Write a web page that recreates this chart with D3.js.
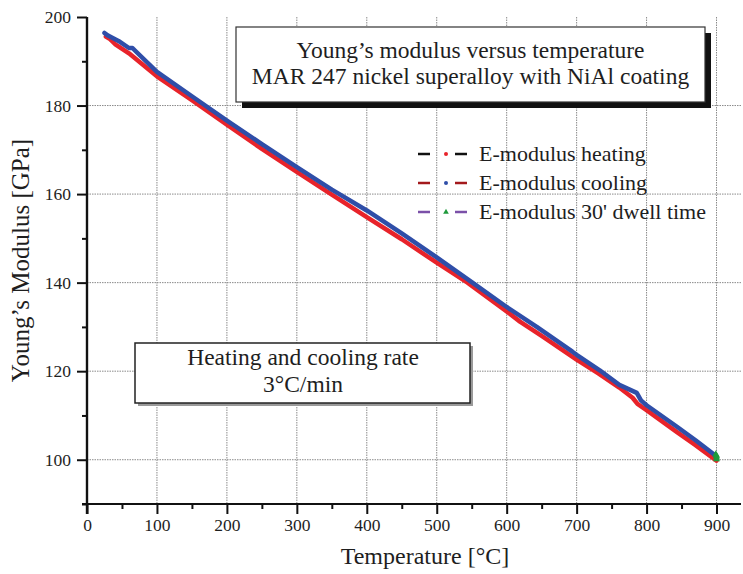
<!DOCTYPE html>
<html>
<head>
<meta charset="utf-8">
<script src="https://cdn.jsdelivr.net/npm/d3@7"></script>
<style>
  body { margin: 0; background: #fff; }
  svg text { font-family: "Palatino Linotype", "Book Antiqua", Palatino, "Liberation Serif", serif; fill: #1e1e1e; }
</style>
</head>
<body>
<svg id="chart"></svg>
<script>
// heating run (red)
const heatT = [27, 33, 40, 60, 100, 150, 200, 250, 300, 350, 400, 450, 500, 544, 600, 619, 650, 700, 731, 761, 780, 787, 800, 843, 870, 900]
const heatE = [195.6, 195.0, 193.9, 191.8, 186.6, 181.2, 175.7, 170.2, 165.0, 159.9, 154.8, 149.8, 144.5, 140.0, 133.5, 131.2, 128.0, 122.6, 119.5, 116.3, 114.0, 112.6, 111.2, 106.3, 103.3, 99.8]

// cooling run (blue)
const coolT = [25, 30, 45, 60, 65, 70, 100, 150, 200, 250, 300, 350, 400, 450, 500, 550, 600, 643, 694, 700, 733, 761, 786, 792, 800, 843, 870, 898]
const coolE = [196.4, 195.8, 194.6, 193.0, 193.0, 192.2, 187.6, 182.1, 176.6, 171.3, 166.1, 161.0, 156.3, 151.1, 145.7, 140.1, 134.5, 130.0, 124.4, 123.7, 120.2, 116.9, 115.1, 113.4, 112.3, 107.5, 104.4, 101.0]

// 30' dwell at 900 °C (green)
const dwellT = [899, 900, 900, 900]
const dwellE = [101.2, 100.9, 100.5, 100.1]

const xMajor = [0, 100, 200, 300, 400, 500, 600, 700, 800, 900]
const xMinor = [50, 150, 250, 350, 450, 550, 650, 750, 850]
const yMajor = [100, 120, 140, 160, 180, 200]
const yMinor = [90, 110, 130, 150, 170, 190]
const yGrid = [100, 120, 140, 160, 180]

const legendLabels = ['E-modulus heating', 'E-modulus cooling', "E-modulus 30' dwell time"]
const legendLine = ['#111111', '#a3191c', '#7b50a8']
const legendMark = ['#e8232a', '#2f4ea8', '#1f9a3c']

const titleLines = ['Young\u2019s modulus versus temperature', 'MAR 247 nickel superalloy with NiAl coating']
const noteLines = ['Heating and cooling rate', '3\u00b0C/min']

let width = 743,
height = 574

let svg = d3.select('#chart')
.attr('width', width)
.attr('height', height)

let x = d3.scaleLinear().domain([0, 935]).range([87, 741])
let y = d3.scaleLinear().domain([90, 200]).range([504, 17])

// grid
svg.append('g').selectAll('line')
.data(xMajor.slice(1))
.enter().append('line')
.attr('x1', d => x(d)).attr('x2', d => x(d))
.attr('y1', y(200)).attr('y2', y(90))
.attr('stroke', '#8a8a8a').attr('stroke-width', 1).attr('stroke-dasharray', '1.5,1')

svg.append('g').selectAll('line')
.data(yGrid)
.enter().append('line')
.attr('x1', x(0)).attr('x2', 741)
.attr('y1', d => y(d)).attr('y2', d => y(d))
.attr('stroke', '#8a8a8a').attr('stroke-width', 1).attr('stroke-dasharray', '1.5,1')

// axes
let xAxis = svg.append('g').attr('transform', `translate(0,${y(90)})`)
.call(d3.axisBottom(x).tickValues(xMajor).tickSize(10).tickPadding(5).tickFormat(d3.format('d')))
xAxis.append('g').call(d3.axisBottom(x).tickValues(xMinor).tickSize(5).tickFormat(''))
xAxis.selectAll('.domain').attr('d', `M82,0H741`)

let yAxis = svg.append('g').attr('transform', `translate(${x(0)},0)`)
.call(d3.axisLeft(y).tickValues(yMajor).tickSize(10).tickPadding(6).tickFormat(d3.format('d')))
yAxis.append('g').call(d3.axisLeft(y).tickValues(yMinor).tickSize(5).tickFormat(''))
yAxis.selectAll('.domain').attr('d', `M0,${y(200)}V${y(90) + 10}`)

svg.selectAll('.domain').attr('stroke', '#111').attr('stroke-width', 2.2)
svg.selectAll('.tick line').attr('stroke', '#111').attr('stroke-width', 2)
svg.selectAll('.tick text').attr('font-size', 17.5).attr('fill', '#2a2a2a')
.style('font-family', '"Palatino Linotype", "Book Antiqua", Palatino, "Liberation Serif", serif')

// axis titles
svg.append('text')
.attr('x', 425).attr('y', 564)
.attr('text-anchor', 'middle').attr('font-size', 24)
.text('Temperature [\u00b0C]')

svg.append('text')
.attr('transform', `translate(29,${y(145)}) rotate(-90)`)
.attr('text-anchor', 'middle').attr('font-size', 25)
.text('Young\u2019s Modulus [GPa]')

// curves
let line = d3.line().x(d => x(d[0])).y(d => y(d[1]))

let drawCurve = (ts, es, color) => {
    svg.append('path')
    .attr('d', line(d3.zip(ts, es)))
    .attr('fill', 'none')
    .attr('stroke', color)
    .attr('stroke-width', 4.5)
    .attr('stroke-linejoin', 'round')
    .attr('stroke-linecap', 'round')
}

drawCurve(heatT, heatE, '#e8232a')
drawCurve(coolT, coolE, '#2f4ea8')

svg.append('g').selectAll('path')
.data(d3.zip(dwellT, dwellE))
.enter().append('path')
.attr('d', d3.symbol(d3.symbolTriangle, 22))
.attr('transform', d => `translate(${x(d[0])},${y(d[1])})`)
.attr('fill', '#1f9a3c')

// title box
let tb = {x: 236, y: 27, w: 469, h: 75}
svg.append('rect').attr('x', tb.x + 6).attr('y', tb.y + 6).attr('width', tb.w).attr('height', tb.h).attr('fill', '#111')
svg.append('rect').attr('x', tb.x).attr('y', tb.y).attr('width', tb.w).attr('height', tb.h)
.attr('fill', '#fff').attr('stroke', '#333').attr('stroke-width', 1.2)
svg.append('g').selectAll('text')
.data(titleLines)
.enter().append('text')
.attr('x', tb.x + tb.w / 2).attr('y', (d, i) => 58 + i * 26)
.attr('text-anchor', 'middle').attr('font-size', 23.5)
.text(d => d)

// note box
let nb = {x: 135, y: 343, w: 335, h: 60}
svg.append('rect').attr('x', nb.x + 3).attr('y', nb.y + 3).attr('width', nb.w).attr('height', nb.h).attr('fill', '#9a9a9a')
svg.append('rect').attr('x', nb.x).attr('y', nb.y).attr('width', nb.w).attr('height', nb.h)
.attr('fill', '#fff').attr('stroke', '#222').attr('stroke-width', 1.5)
svg.append('g').selectAll('text')
.data(noteLines)
.enter().append('text')
.attr('x', 303).attr('y', (d, i) => 365 + i * 27)
.attr('text-anchor', 'middle').attr('font-size', 23.5)
.text(d => d)

// legend
let lg = svg.append('g')
legendLabels.forEach((lab, i) => {
    let cy = 154 + i * 29
    lg.append('line').attr('x1', 418).attr('x2', 430).attr('y1', cy).attr('y2', cy)
    .attr('stroke', legendLine[i]).attr('stroke-width', 2.5)
    lg.append('line').attr('x1', 455).attr('x2', 467).attr('y1', cy).attr('y2', cy)
    .attr('stroke', legendLine[i]).attr('stroke-width', 2.5)
    if (i < 2) {
        lg.append('circle').attr('cx', 446).attr('cy', cy).attr('r', 2).attr('fill', legendMark[i])
    } else {
        lg.append('path').attr('d', d3.symbol(d3.symbolTriangle, 14))
        .attr('transform', `translate(446,${cy})`).attr('fill', legendMark[i])
    }
    lg.append('text').attr('x', 479).attr('y', cy + 7)
    .attr('font-size', 22).text(lab)
})
</script>
</body>
</html>
